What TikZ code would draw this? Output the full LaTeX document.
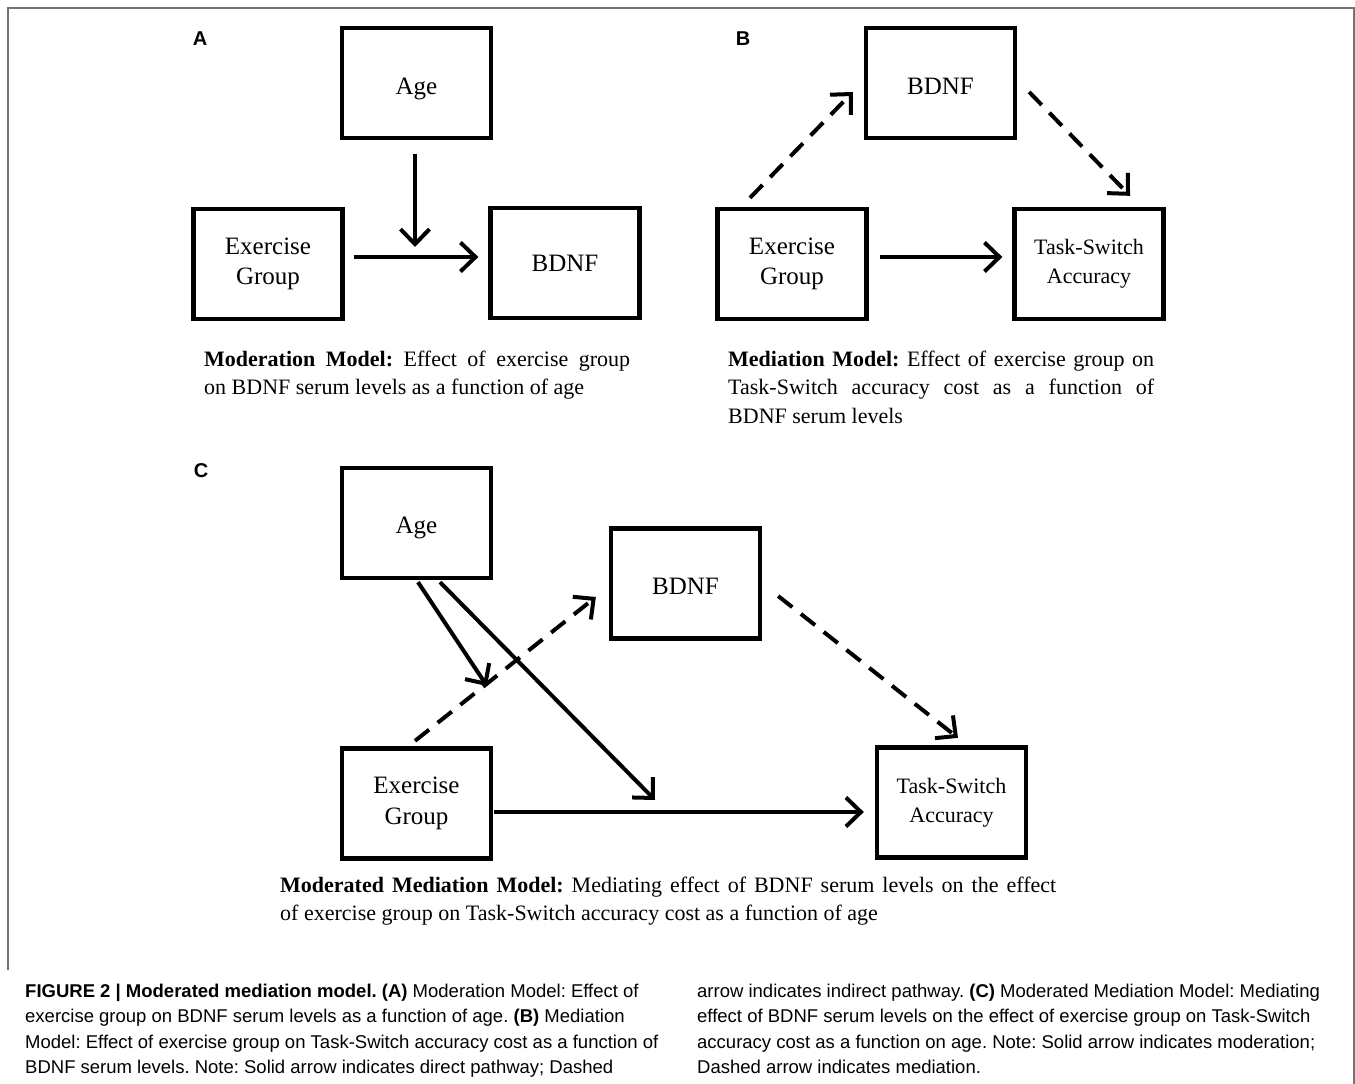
\documentclass[tikz,border=0pt]{standalone}
\usepackage{fontspec}
\setmainfont{Liberation Serif}
\newfontfamily\capfont{Liberation Sans}
\usetikzlibrary{arrows.meta,calc}
\begin{document}
\frenchspacing
\begin{tikzpicture}[x=1pt,y=-1pt,
 box/.style={draw,line width=4.3pt,minimum width=149pt,minimum height=110pt,inner sep=0pt,align=center,font=\fontsize{25}{30.5}\selectfont},
 tsbox/.style={box,font=\fontsize{22}{29}\selectfont},
 dn/.style={execute at begin node={\rule{0pt}{#1}}},
 arr/.style={line width=4pt,-{Straight Barb[length=15pt,width=29pt]}},
 darr/.style={arr,dash pattern=on 18pt off 11pt},
 lbl/.style={font=\capfont\bfseries\fontsize{20}{24}\selectfont,inner sep=0pt},
 ptext/.style={anchor=base west,inner sep=0pt,font=\fontsize{22}{28}\selectfont},
 ctext/.style={anchor=base west,inner sep=0pt,font=\capfont\fontsize{18.5}{25}\selectfont},
 frame/.style={draw=black!55,line width=1.5pt}]
\useasboundingbox (0,0) rectangle (1355,1084);
\draw[frame] (8,970) -- (8,8) -- (1354,8) -- (1354,1084);

% ---------- Panel A ----------
\node[lbl] (la) at (200,39) {A};
\node[box,dn=28pt] (ageA) at (416.5,83) {Age};
\node[box,dn=26pt] (exA) at (268,264) {Exercise\\Group};
\node[box] (bdnfA) at (565,263) {BDNF};
\coordinate (mA) at (415,247);
\draw[arr] ($(exA.east)+(9,-7)$) -- ($(bdnfA.west)+(-10,-6)$);
\draw[arr] ($(ageA.south)+(-1.5,14)$) -- (mA);
\node[ptext] (capA1) at (204,366) {\makebox[426pt][s]{\textbf{Moderation Model:} Effect of exercise group}};
\node[ptext] (capA2) at (204,394.5) {on BDNF serum levels as a function of age};

% ---------- Panel B ----------
\node[lbl] (lb) at (743,39) {B};
\node[box,dn=23pt] (bdnfB) at (940.5,83) {BDNF};
\node[box,dn=26pt] (exB) at (792,264) {Exercise\\Group};
\node[tsbox] (tsB) at (1089,264) {Task-Switch\\Accuracy};
\draw[darr] ($(exB.north)+(-42,-9)$) -- ($(bdnfB.west)+(-11,9)$);
\draw[darr] ($(bdnfB.east)+(12,9)$) -- ($(tsB.north)+(41,-11)$);
\draw[arr] ($(exB.east)+(11,-7)$) -- ($(tsB.west)+(-10,-7)$);
\node[ptext] (capB1) at (728,366) {\makebox[426pt][s]{\textbf{Mediation Model:} Effect of exercise group on}};
\node[ptext] (capB2) at (728,394.5) {\makebox[426pt][s]{Task-Switch accuracy cost as a function of}};
\node[ptext] (capB3) at (728,423) {BDNF serum levels};

% ---------- Panel C ----------
\node[lbl] (lc) at (201,471) {C};
\node[box,dn=27pt] (ageC) at (416.5,523) {Age};
\node[box,dn=23pt] (bdnfC) at (685.5,583.5) {BDNF};
\node[box,dn=27pt] (exC) at (416.5,803.5) {Exercise\\Group};
\node[tsbox,dn=26pt] (tsC) at (951.5,802.5) {Task-Switch\\Accuracy};
\coordinate (m1) at (487,686);
\coordinate (m2) at (655,800);
\draw[arr] ($(ageC.south)+(1.5,2)$) -- (m1);
\draw[arr] ($(ageC.south)+(23.5,2)$) -- (m2);
\draw[darr] ($(exC.north)+(-1.5,-5.5)$) -- ($(bdnfC.west)+(-13,13.5)$);
\draw[darr] ($(bdnfC.east)+(16,12.5)$) -- ($(tsC.north)+(6.5,-7.5)$);
\draw[arr] ($(exC.east)+(1,8.5)$) -- ($(tsC.west)+(-11,9.5)$);
\node[ptext] (capC1) at (280,892) {\makebox[776pt][s]{\textbf{Moderated Mediation Model:} Mediating effect of BDNF serum levels on the effect}};
\node[ptext] (capC2) at (280,920) {of exercise group on Task-Switch accuracy cost as a function of age};

% ---------- Figure caption ----------
\node[ctext] (fl1) at (25,997) {\textbf{FIGURE 2 | Moderated mediation model. (A)} Moderation Model: Effect of};
\node[ctext] (fl2) at (25,1022.5) {exercise group on BDNF serum levels as a function of age. \textbf{(B)} Mediation};
\node[ctext] (fl3) at (25,1048) {Model: Effect of exercise group on Task-Switch accuracy cost as a function of};
\node[ctext] (fl4) at (25,1073.5) {BDNF serum levels. Note: Solid arrow indicates direct pathway; Dashed};
\node[ctext] (fr1) at (697,997) {arrow indicates indirect pathway. \textbf{(C)} Moderated Mediation Model: Mediating};
\node[ctext] (fr2) at (697,1022.5) {effect of BDNF serum levels on the effect of exercise group on Task-Switch};
\node[ctext] (fr3) at (697,1048) {accuracy cost as a function on age. Note: Solid arrow indicates moderation;};
\node[ctext] (fr4) at (697,1073.5) {Dashed arrow indicates mediation.};
\end{tikzpicture}
\end{document}
